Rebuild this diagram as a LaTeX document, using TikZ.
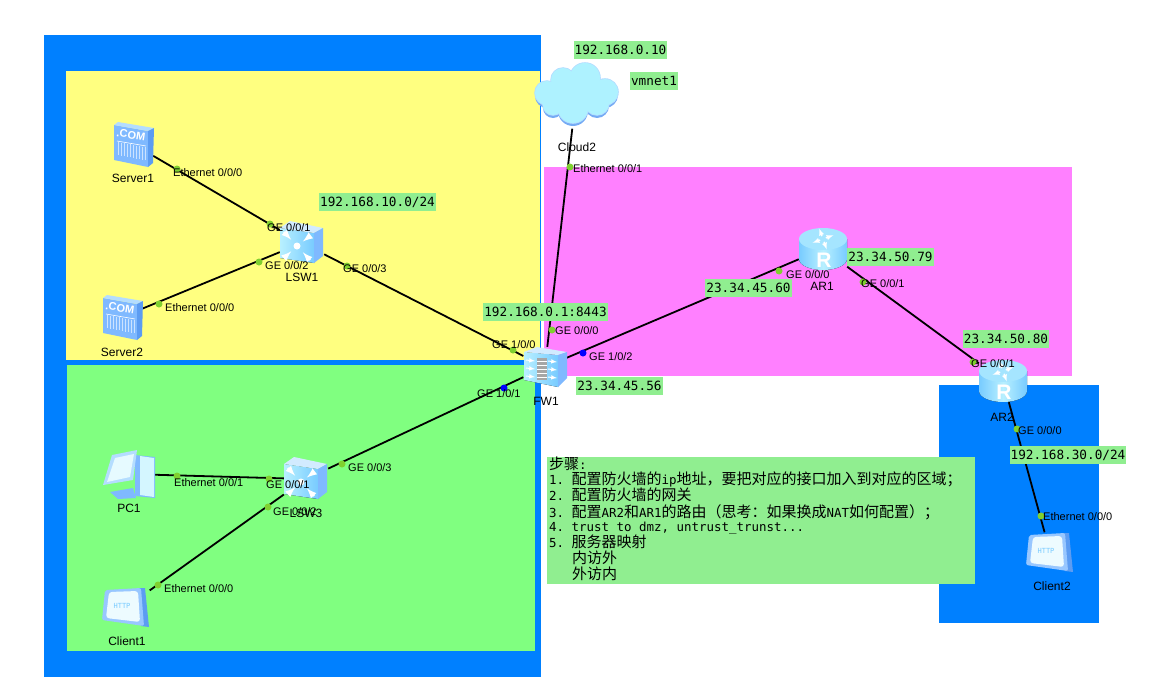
\documentclass[tikz,border=0pt]{standalone}
\usepackage{fontspec}
\setmainfont{Liberation Sans}
\newfontfamily\netmono{DejaVu Sans Mono}
\newfontfamily\cnfont{Noto Sans CJK SC}
\newcommand{\cn}[1]{{\fontsize{15}{16}\cnfont #1}}
\definecolor{zoneblue}{HTML}{0080FF}
\definecolor{zoneyellow}{HTML}{FFFF80}
\definecolor{zonegreen}{HTML}{80FF80}
\definecolor{zonepink}{HTML}{FF80FF}
\definecolor{tagGreen}{HTML}{90EE90}
\definecolor{portGreen}{HTML}{80D030}
\definecolor{iconFront}{HTML}{7FB9FF}
\definecolor{iconTop}{HTML}{B4DDFF}
\definecolor{iconSide}{HTML}{5C9CF2}
\definecolor{iconPale}{HTML}{B8F0FF}
\definecolor{iconSky}{HTML}{78CBFF}
\definecolor{cloudFill}{HTML}{AEF2FF}
\tikzset{
    devnode/.style={inner sep=0pt},
    devlabel/.style={inner sep=0pt, font=\fontsize{12}{14}\selectfont},
    portlabel/.style={anchor=west, inner sep=0pt, yshift=-0.6pt, font=\fontsize{11}{13}\selectfont},
    portdot/.style={circle, fill=portGreen, inner sep=0pt, minimum size=7pt},
    bluedot/.style={circle, fill=blue, inner sep=0pt, minimum size=7pt},
    link/.style={draw=black, line width=1.8pt},
    tag/.style={fill=tagGreen, inner xsep=1pt, inner ysep=0pt, minimum height=18pt, font=\fontsize{12.7}{14}\netmono},
    notetext/.style={anchor=west, inner sep=0pt, font=\fontsize{12.45}{14}\netmono\frenchspacing},
    servericon/.pic={
        \fill[iconFront] (-19,-19) -- (15,-13) -- (15,23) -- (-19,16) -- cycle;
        \fill[iconTop] (-19,-19) -- (-15,-22) -- (21,-16) -- (15,-13) -- cycle;
        \fill[iconSide] (15,-13) -- (21,-16) -- (20,19) -- (15,23) -- cycle;
        \node[white, rotate=-9, inner sep=0pt, font=\bfseries\fontsize{11}{12}\selectfont] (comtext) at (-2,-9) {.COM};
        \draw[white, line width=0.6pt] (-16,-3) -- (13,2);
        \foreach \vx in {-15,-12,...,12}
            \draw[white!60!iconFront, line width=0.9pt] (\vx,{\vx*0.17+1}) -- ++(0,13);
    },
    switchicon/.pic={
        \fill[left color=iconPale, right color=iconSky] (-22,-15) -- (12,-10) -- (12,20) -- (-22,15) -- cycle;
        \fill[iconTop!60!white] (-22,-15) -- (-12,-22) -- (21,-15) -- (12,-10) -- cycle;
        \fill[iconFront] (12,-10) -- (21,-15) -- (21,13) -- (12,20) -- cycle;
        \fill[white] (-5,3) circle (3.5pt);
        \foreach \ax/\ay in {-18/-11,8/-7,-18/15,8/17}
            \draw[white, line width=2.4pt, -latex] (\ax,\ay) -- ({-5+(\ax+5)*0.45},{3+(\ay-3)*0.45});
    },
    fwicon/.pic={
        \fill[left color=iconPale, right color=iconSky] (-21,-15) -- (13,-12) -- (13,20) -- (-21,13) -- cycle;
        \fill[iconTop!60!white] (-21,-15) -- (-8,-20) -- (22,-15) -- (13,-12) -- cycle;
        \fill[iconFront] (13,-12) -- (22,-15) -- (22,11) -- (13,20) -- cycle;
        \fill[gray!70!white] (-8,-9) rectangle (2,13);
        \foreach \wy in {-6,-2,...,10}
            \draw[white, line width=0.6pt] (-8,\wy) -- (2,\wy);
        \foreach \ay in {-7,1,9} {
            \draw[white, line width=1pt, -latex] (-19,\ay) -- (-10,\ay+1);
            \draw[white, line width=1pt, -latex] (3,\ay+1) -- (12,\ay+2);
        }
    },
    routericon/.pic={
        \fill[left color=iconSky, right color=iconSky, middle color=iconPale] (-24,-10) -- (-24,10) arc[start angle=180, end angle=360, x radius=24pt, y radius=11pt] -- (24,-10) -- cycle;
        \fill[iconPale!70!iconSky] (0,-10) ellipse[x radius=24pt, y radius=11pt];
        \foreach \ra in {20,110,200,290}
            \draw[white, line width=1.3pt, -latex, shift={(0,-10)}] (\ra:3pt) -- (\ra:11pt);
        \node[white, inner sep=0pt, font=\bfseries\fontsize{21}{22}\selectfont] (rtext) at (1,11) {R};
    },
    pcicon/.pic={
        \fill[iconFront] (7,-19) -- (27,-17) -- (27,24) -- (7,22) -- cycle;
        \fill[iconPale!60!white] (12,-18) -- (26,-16) -- (26,23) -- (12,21) -- cycle;
        \fill[iconFront] (-18,18) -- (5,14) -- (8,24) -- (-10,25) -- cycle;
        \fill[iconTop] (-16,-19) -- (9,-24) -- (5,6) -- (-25,11) -- cycle;
        \fill[iconPale!35!white] (-13,-16) -- (6,-20) -- (2,3) -- (-21,8) -- cycle;
    },
    clienticon/.pic={
        \fill[iconSide] (13,-19) -- (19,-19) -- (23,20) -- (15,19) -- cycle;
        \fill[iconFront!80!white, rounded corners=2pt] (-21,-17) -- (15,-19) -- (18,19) -- (-24,13) -- cycle;
        \fill[iconPale!25!white, rounded corners=3pt] (-17,-15) -- (12,-16) -- (14,15) -- (-20,11) -- cycle;
        \node[iconSky, inner sep=0pt, font=\fontsize{7}{8}\netmono] (httptext) at (-4,-1) {HTTP};
    },
    cloudicon/.pic={
        \foreach \bx/\by/\br in {-29/-3/12,-13/-16/12,9/-18/15,29/-4/13,-3/12/15,21/7/12,-23/9/10}
            \fill[iconSide!85!white] (\bx,\by+3) circle (\br pt);
        \foreach \bx/\by/\br in {-29/-3/12,-13/-16/12,9/-18/15,29/-4/13,-3/12/15,21/7/12,-23/9/10,0/-2/20}
            \fill[iconTop] (\bx,\by) circle (\br pt + 0.8pt);
        \foreach \bx/\by/\br in {-29/-3/12,-13/-16/12,9/-18/15,29/-4/13,-3/12/15,21/7/12,-23/9/10,0/-2/20}
            \fill[cloudFill] (\bx,\by) circle (\br pt);
    }
}
\begin{document}
\begin{tikzpicture}[x=1pt,y=-1pt]
    \useasboundingbox (0,0) rectangle (1173,688);

    % zones
    \fill[zoneblue] (44,35) rectangle (541,677);
    \fill[zoneyellow] (66,71) rectangle (540,360);
    \fill[zonegreen] (67,365) rectangle (535,651);
    \fill[zonepink] (544,167) rectangle (1072,376);
    \fill[zoneblue] (939,385) rectangle (1099,623);
    \fill[tagGreen] (547,457) rectangle (975,584);

    % devices
    \node[devnode, minimum width=40pt, minimum height=45pt] (server1) at (133,144) {};
    \node[devnode, minimum width=40pt, minimum height=45pt] (server2) at (122,317) {};
    \node[devnode, minimum width=44pt, minimum height=42pt] (lsw1) at (302,243) {};
    \node[devnode, minimum width=44pt, minimum height=42pt] (lsw3) at (306,479) {};
    \node[devnode, minimum width=43pt, minimum height=40pt] (fw1) at (545,367) {};
    \node[devnode, minimum width=48pt, minimum height=42pt] (ar1) at (823,249) {};
    \node[devnode, minimum width=48pt, minimum height=42pt] (ar2) at (1003,381) {};
    \node[devnode, minimum width=50pt, minimum height=46pt] (pc1) at (128,474) {};
    \node[devnode, minimum width=47pt, minimum height=39pt] (client1) at (126,607) {};
    \node[devnode, minimum width=47pt, minimum height=39pt] (client2) at (1050,552) {};
    \node[devnode, minimum width=83pt, minimum height=65pt] (cloud2) at (576,96) {};

    % links
    \draw[link] (server1) -- (lsw1);
    \draw[link] (server2) -- (lsw1);
    \draw[link] (lsw1) -- (fw1);
    \draw[link] (pc1) -- (lsw3);
    \draw[link] (client1.35) -- (lsw3.215);
    \draw[link] (lsw3) -- (fw1);
    \draw[link] (cloud2) -- (fw1);
    \draw[link] (fw1) -- (ar1);
    \draw[link] (ar1) -- (ar2);
    \draw[link] (ar2) -- (client2);

    % icons
    \pic at (server1) {servericon};
    \pic at (server2) {servericon};
    \pic at (lsw1) {switchicon};
    \pic at (lsw3) {switchicon};
    \pic at (fw1) {fwicon};
    \pic at (ar1) {routericon};
    \pic at (ar2) {routericon};
    \pic at (pc1) {pcicon};
    \pic at (client1) {clienticon};
    \pic at (client2) {clienticon};
    \pic at (cloud2) {cloudicon};

    % device names
    \node[devlabel] (server1name) at (133,178) {Server1};
    \node[devlabel] (server2name) at (122,352) {Server2};
    \node[devlabel] (lsw1name) at (302,277) {LSW1};
    \node[devlabel] (lsw3name) at (306,513) {LSW3};
    \node[devlabel] (fw1name) at (546,401) {FW1};
    \node[devlabel] (ar1name) at (822,286) {AR1};
    \node[devlabel] (ar2name) at (1002,417) {AR2};
    \node[devlabel] (pc1name) at (129,508) {PC1};
    \node[devlabel] (client1name) at (127,641) {Client1};
    \node[devlabel] (client2name) at (1052,586) {Client2};
    \node[devlabel] (cloud2name) at (577,147) {Cloud2};

    % addresses
    \node[tag] (tagserver) at (377.5,202) {192.168.10.0/24};
    \node[tag] (tagcloud) at (620.5,50) {192.168.0.10};
    \node[tag] (tagvmnet) at (654,81) {vmnet1};
    \node[tag] (tagmgmt) at (545.5,312) {192.168.0.1:8443};
    \node[tag] (tagfw) at (619.5,385.5) {23.34.45.56};
    \node[tag] (tagarone) at (748.5,288) {23.34.45.60};
    \node[tag] (tagarout) at (890.5,257) {23.34.50.79};
    \node[tag] (tagartwo) at (1006,338.5) {23.34.50.80};
    \node[tag] (tagclient) at (1068,455) {192.168.30.0/24};

    % ports
    \node[portdot] (p1) at (177,169) {};
    \node[portlabel] (p1t) at (173,172) {Ethernet 0/0/0};
    \node[portdot] (p2) at (270,224) {};
    \node[portlabel] (p2t) at (267,227) {GE 0/0/1};
    \node[portdot] (p3) at (259,262) {};
    \node[portlabel] (p3t) at (265,265) {GE 0/0/2};
    \node[portdot] (p4) at (159,304) {};
    \node[portlabel] (p4t) at (165,307) {Ethernet 0/0/0};
    \node[portdot] (p5) at (347,266) {};
    \node[portlabel] (p5t) at (343,268) {GE 0/0/3};
    \node[portdot] (p6) at (513,350) {};
    \node[portlabel] (p6t) at (492,344) {GE 1/0/0};
    \node[bluedot] (p7) at (504,388) {};
    \node[portlabel] (p7t) at (477,393) {GE 1/0/1};
    \node[portdot] (p8) at (552,330) {};
    \node[portlabel] (p8t) at (555,330) {GE 0/0/0};
    \node[bluedot] (p9) at (583,353) {};
    \node[portlabel] (p9t) at (589,356) {GE 1/0/2};
    \node[portdot] (p10) at (177,476) {};
    \node[portlabel] (p10t) at (174,482) {Ethernet 0/0/1};
    \node[portdot] (p11) at (269,479) {};
    \node[portlabel] (p11t) at (266,484) {GE 0/0/1};
    \node[portdot] (p12) at (268,507) {};
    \node[portlabel] (p12t) at (273,511) {GE 0/0/2};
    \node[portdot] (p13) at (158,585) {};
    \node[portlabel] (p13t) at (164,588) {Ethernet 0/0/0};
    \node[portdot] (p14) at (342,464) {};
    \node[portlabel] (p14t) at (348,467) {GE 0/0/3};
    \node[portdot] (p15) at (779,271) {};
    \node[portlabel] (p15t) at (786,274) {GE 0/0/0};
    \node[portdot] (p16) at (863,282) {};
    \node[portlabel] (p16t) at (861,283) {GE 0/0/1};
    \node[portdot] (p17) at (973,362) {};
    \node[portlabel] (p17t) at (971,363) {GE 0/0/1};
    \node[portdot] (p18) at (1017,429) {};
    \node[portlabel] (p18t) at (1018,430) {GE 0/0/0};
    \node[portdot] (p19) at (1041,516) {};
    \node[portlabel] (p19t) at (1043,516) {Ethernet 0/0/0};
    \node[portdot] (p20) at (570,167) {};
    \node[portlabel] (p20t) at (573,168) {Ethernet 0/0/1};

    % steps
    \node[notetext] (line0) at (549,464) {\cn{步骤}:};
    \node[notetext] (line1) at (549,479) {1. \cn{配置防火墙的}ip\cn{地址，要把对应的接口加入到对应的区域；}};
    \node[notetext] (line2) at (549,495) {2. \cn{配置防火墙的网关}};
    \node[notetext] (line3) at (549,512) {3. \cn{配置}AR2\cn{和}AR1\cn{的路由（思考：如果换成}NAT\cn{如何配置）；}};
    \node[notetext] (line4) at (549,528) {4. trust to dmz, untrust\_trunst...};
    \node[notetext] (line5) at (549,542) {5. \cn{服务器映射}};
    \node[notetext] (line6) at (572,558) {\cn{内访外}};
    \node[notetext] (line7) at (572,574) {\cn{外访内}};
\end{tikzpicture}
\end{document}
